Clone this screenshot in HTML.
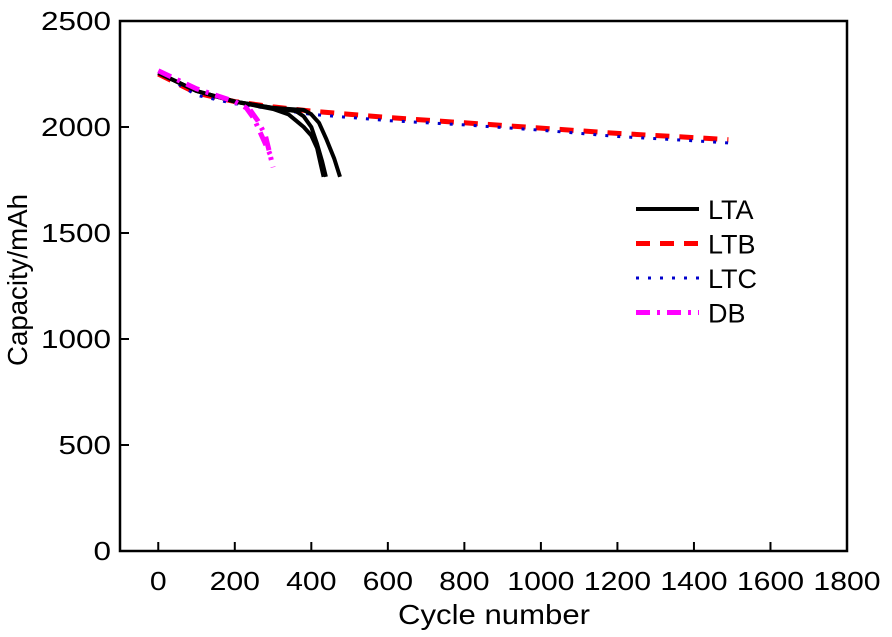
<!DOCTYPE html>
<html><head><meta charset="utf-8"><style>
body{margin:0;background:#fff;}
svg{display:block;font-family:"Liberation Sans",Arial,sans-serif;}
</style></head><body>
<svg id="chart" width="892" height="637" viewBox="0 0 892 637" xmlns="http://www.w3.org/2000/svg">
<g id="plot"></g>
<g id="axes"></g>
<g id="legend"></g>
</svg>
<script>
const xTicks=[0,200,400,600,800,1000,1200,1400,1600,1800];
const yTicks=[0,500,1000,1500,2000,2500];
const lta1X=[0,100,200,300,340,360,380,400,415,425,432];
const lta1Y=[2255,2170,2120,2085,2060,2030,2000,1960,1900,1820,1765];
const lta2X=[0,100,200,300,360,380,400,415,428,438];
const lta2Y=[2255,2170,2120,2090,2075,2050,2000,1920,1840,1765];
const lta3X=[0,100,200,300,380,400,420,440,460,475];
const lta3Y=[2255,2170,2120,2090,2080,2060,2020,1940,1850,1765];
const ltbX=[0,100,200,300,400,600,800,1000,1200,1400,1490];
const ltbY=[2250,2160,2120,2095,2075,2045,2020,1995,1970,1950,1940];
const ltcX=[0,100,200,300,400,600,800,1000,1200,1400,1490];
const ltcY=[2260,2150,2110,2085,2060,2030,2010,1985,1955,1935,1925];
const db1X=[0,100,200,230,250,270,290,298];
const db1Y=[2265,2180,2120,2090,2040,1960,1880,1850];
const db2X=[240,260,280,300];
const db2Y=[2080,2030,1960,1810];
const seriesNames=["LTA","LTB","LTC","DB"];

const L=120,R=847,T=21,B=551;
const xs=v=>L+(v+100)/1900*(R-L);
const ys=v=>B-v/2500*(B-T);
const NS="http://www.w3.org/2000/svg";
function mk(tag,attrs,parent){const e=document.createElementNS(NS,tag);for(const k in attrs)e.setAttribute(k,attrs[k]);parent.appendChild(e);return e;}
const plot=document.getElementById('plot'),axes=document.getElementById('axes'),leg=document.getElementById('legend');
const styles={
 LTA:{stroke:"#000",w:4,dash:""},
 LTB:{stroke:"#f00",w:5,dash:"14 10"},
 LTC:{stroke:"#00c",w:3,dash:"3 9"},
 DB:{stroke:"#f0f",w:5,dash:"14 7 3 7"}
};
function line(xa,ya,st,name){
 const d=xa.map((x,i)=>(i?"L":"M")+xs(x).toFixed(1)+","+ys(ya[i]).toFixed(1)).join("");
 const p=mk('path',{d:d,fill:"none",stroke:st.stroke,"stroke-width":st.w,"stroke-dasharray":st.dash,"stroke-linejoin":"round"},plot);
 
 
}
line(ltbX,ltbY,styles.LTB,'series-ltb');
line(ltcX,ltcY,styles.LTC,'series-ltc');
line(lta1X,lta1Y,styles.LTA,'series-lta-1');
line(lta2X,lta2Y,styles.LTA,'series-lta-2');
line(lta3X,lta3Y,styles.LTA,'series-lta-3');
line(db1X,db1Y,styles.DB,'series-db-1');
line(db2X,db2Y,styles.DB,'series-db-2');

const frame=mk('rect',{x:L,y:T,width:R-L,height:B-T,fill:"none",stroke:"#000","stroke-width":2.5},axes);


xTicks.forEach(v=>{
 const x=xs(v);
 const t=mk('line',{x1:x,x2:x,y1:B,y2:B-9,stroke:"#000","stroke-width":2},axes);
 
 
 const s=String(v);
 const tx=mk('text',{x:x,y:B+39,"text-anchor":"middle","font-size":26,textLength:s.length*16.8,lengthAdjust:"spacingAndGlyphs"},axes);
 tx.textContent=s;
 
 
});
yTicks.forEach(v=>{
 const y=ys(v);
 const t=mk('line',{x1:L,x2:L+9,y1:y,y2:y,stroke:"#000","stroke-width":2},axes);
 
 
 const s=String(v);
 const tx=mk('text',{x:L-9,y:y+9,"text-anchor":"end","font-size":26,textLength:s.length*17.5,lengthAdjust:"spacingAndGlyphs"},axes);
 tx.textContent=s;
 
 
});
const xt=mk('text',{x:494,y:624,"text-anchor":"middle","font-size":28,textLength:192,lengthAdjust:"spacingAndGlyphs"},axes);
xt.textContent="Cycle number";


const yt=mk('text',{x:0,y:0,"text-anchor":"middle","font-size":28,textLength:172,lengthAdjust:"spacingAndGlyphs",transform:"translate(27,280) rotate(-90)"},axes);
yt.textContent="Capacity/mAh";



seriesNames.forEach((n,i)=>{
 const y=209+i*34.5, st=styles[n];
 const g=mk('g',{},leg);
 
 
 mk('line',{x1:636,x2:699,y1:y,y2:y,stroke:st.stroke,"stroke-width":st.w,"stroke-dasharray":st.dash},g);
 const tx=mk('text',{x:708,y:y+10,"font-size":27},g);
 tx.textContent=n;
});
</script>
</body></html>
